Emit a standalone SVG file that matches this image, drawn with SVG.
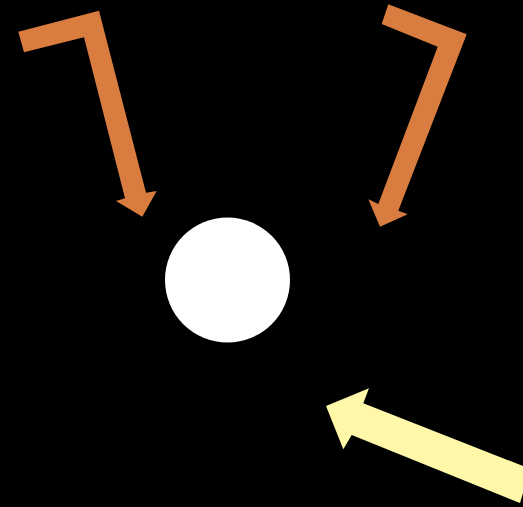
<svg xmlns="http://www.w3.org/2000/svg" width="523" height="507" viewBox="0 0 523 507">
<style>
.orange{fill:#d87c3f}
.yellow{fill:#fff8a8}
</style>
<rect width="523" height="507" fill="#000"/>
<g id="connectors">
<polygon class="orange" points="18.3,31.7 99,10.7 146,192.7 156.7,191 142.3,216.7 116,201 125,198.3 84,37.3 24,52.3"/>
<polygon class="orange" points="388.3,4.3 466.7,34.3 398.3,210.7 407.7,214.3 380,226.7 368.3,199.3 378.3,204 437.7,46.7 381.7,24"/>
<polygon class="yellow" points="326,406 369,388.3 363.3,403.3 523,466 523,493 520,503 351.7,435 343.3,449.3"/>
</g>
<g id="node-circle">
<circle cx="227.5" cy="280" r="62.5" fill="#fff"/>
</g>
</svg>
